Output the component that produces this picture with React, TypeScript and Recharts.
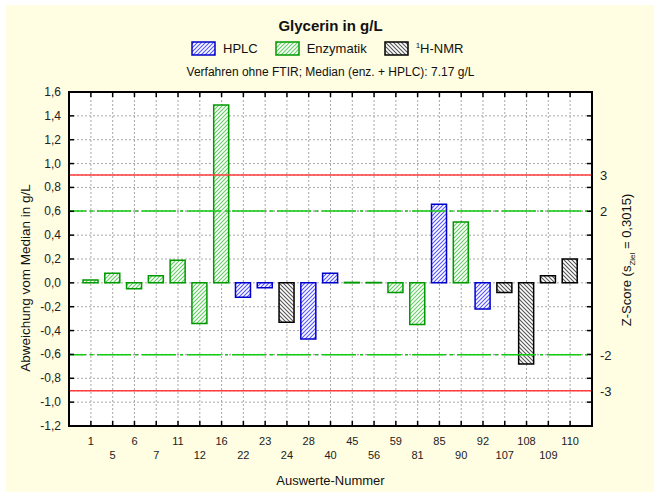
import React from "react";
import {
  BarChart,
  Bar,
  XAxis,
  YAxis,
  CartesianGrid,
  ReferenceLine,
} from "recharts";

// Auswerte-Nummer, Verfahren (E = Enzymatik, H = HPLC, N = 1H-NMR), Abweichung vom Median in g/L
const labNumbers = ["1", "5", "6", "7", "11", "12", "16", "22", "23", "24", "28", "40", "45", "56", "59", "81", "85", "90", "92", "107", "108", "109", "110"];
const methods = ["E", "E", "E", "E", "E", "E", "E", "H", "H", "N", "H", "H", "E", "E", "E", "E", "H", "E", "H", "N", "N", "N", "N"];
const deviations = [0.025, 0.08, -0.05, 0.06, 0.19, -0.34, 1.49, -0.12, -0.04, -0.33, -0.47, 0.08, 0.004, 0.003, -0.08, -0.35, 0.66, 0.51, -0.22, -0.08, -0.68, 0.06, 0.2];

const yTicks = [-1.2, -1.0, -0.8, -0.6, -0.4, -0.2, 0, 0.2, 0.4, 0.6, 0.8, 1.0, 1.2, 1.4, 1.6];
const sZiel = 0.3015;
const zScores = [3, 2, -2, -3];

const FONT = '"Liberation Sans", Arial, Helvetica, sans-serif';

// plot frame (pixels)
const PLOT_LEFT = 69;
const PLOT_TOP = 92;
const PLOT_W = 523;
const PLOT_H = 334;

const chartData = labNumbers.map((name, i) => ({
  name,
  HPLC: methods[i] === "H" ? deviations[i] : null,
  Enzymatik: methods[i] === "E" ? deviations[i] : null,
  NMR: methods[i] === "N" ? deviations[i] : null,
}));

const zValues = zScores.map((z) => z * sZiel);
const allYTicks = [...yTicks, ...zValues].sort((a, b) => a - b);

const fmt = (v: number) => v.toFixed(1).replace(".", ",");

// left axis tick + mirrored tick / z-score label on the right edge
function YTick({ x, y, payload }: any) {
  const xr = x + PLOT_W;
  const idx = zValues.findIndex((v) => Math.abs(v - payload.value) < 1e-9);
  if (idx >= 0) {
    return (
      <text x={xr + 8} y={y} dy={5} textAnchor="start" fontSize={13} fill="#222" fontFamily={FONT}>
        {zScores[idx]}
      </text>
    );
  }
  return (
    <g>
      <line x1={x} x2={x + 5} y1={y} y2={y} stroke="#000" strokeWidth={1.5} />
      <line x1={xr - 5} x2={xr} y1={y} y2={y} stroke="#000" strokeWidth={1.5} />
      <text x={x - 8} y={y} dy={4} textAnchor="end" fontSize={12} fill="#222" fontFamily={FONT}>
        {fmt(payload.value)}
      </text>
    </g>
  );
}

// bottom tick (two label rows) + mirrored tick on the top edge
function XTick({ x, y, payload, index }: any) {
  const row = index % 2;
  const yt = y - PLOT_H;
  return (
    <g>
      <line x1={x} x2={x} y1={y - 5} y2={y} stroke="#000" strokeWidth={1.5} />
      <line x1={x} x2={x} y1={yt} y2={yt + 5} stroke="#000" strokeWidth={1.5} />
      <text x={x} y={y} dy={row === 0 ? 19 : 33} textAnchor="middle" fontSize={11} fill="#222" fontFamily={FONT}>
        {payload.value}
      </text>
    </g>
  );
}

function Swatch({ pattern, stroke }: { pattern: string; stroke: string }) {
  return (
    <svg width={25} height={15} style={{ display: "block" }}>
      <rect x={1} y={1} width={23} height={13} fill={`url(#${pattern})`} stroke={stroke} strokeWidth={1.5} />
    </svg>
  );
}

export default function App() {
  return (
    <div style={{ position: "absolute", left: 0, top: 0, width: 654, height: 492, background: "#fff", fontFamily: FONT }}>
      <div style={{ position: "absolute", left: 6, top: 5, right: 0, bottom: 0, background: "#fffde2" }} />

      <div style={{ position: "absolute", left: 0, top: 0 }}>
        <BarChart
          width={654}
          height={492}
          data={chartData}
          stackOffset="sign"
          margin={{ top: PLOT_TOP, right: 654 - PLOT_LEFT - PLOT_W, bottom: 492 - PLOT_TOP - PLOT_H - 1, left: PLOT_LEFT - 1 }}
        >
          <defs>
            <pattern id="hatchBlue" width={4} height={4} patternUnits="userSpaceOnUse">
              <rect width={4} height={4} fill="#fff" />
              <path d="M-1,1 l2,-2 M0,4 l4,-4 M3,5 l2,-2" stroke="#5555ff" strokeWidth={1.1} />
            </pattern>
            <pattern id="hatchGreen" width={4} height={4} patternUnits="userSpaceOnUse">
              <rect width={4} height={4} fill="#fff" />
              <path d="M-1,1 l2,-2 M0,4 l4,-4 M3,5 l2,-2" stroke="#66cc66" strokeWidth={1.1} />
            </pattern>
            <pattern id="hatchGrey" width={4} height={4} patternUnits="userSpaceOnUse">
              <rect width={4} height={4} fill="#fff" />
              <path d="M-1,3 l2,2 M0,0 l4,4 M3,-1 l2,2" stroke="#555" strokeWidth={1.1} />
            </pattern>
          </defs>

          <CartesianGrid stroke="#a8a8a8" strokeDasharray="2 2" fill="#fff" />

          <XAxis
            dataKey="name"
            padding={{ left: 11, right: 11 }}
            height={1}
            tickSize={0}
            tickMargin={0}
            interval={0}
            tick={<XTick />}
            axisLine={false}
          />
          <YAxis
            domain={[-1.2, 1.6]}
            ticks={allYTicks}
            interval={0}
            width={1}
            tickSize={0}
            tickMargin={0}
            tick={<YTick />}
            axisLine={false}
          />

          {zValues.map((v, i) => (
            <ReferenceLine
              key={i}
              y={v}
              stroke={Math.abs(zScores[i]) === 3 ? "#ff3b3b" : "#11cc11"}
              strokeWidth={1.5}
              strokeDasharray={Math.abs(zScores[i]) === 3 ? undefined : "34 4 3 4"}
              strokeDashoffset={Math.abs(zScores[i]) === 3 ? undefined : 17}
            />
          ))}

          <Bar dataKey="HPLC" stackId="a" barSize={15} fill="url(#hatchBlue)" stroke="#0000cc" strokeWidth={1.5} isAnimationActive={false} />
          <Bar dataKey="Enzymatik" stackId="a" barSize={15} fill="url(#hatchGreen)" stroke="#009900" strokeWidth={1.5} isAnimationActive={false} />
          <Bar dataKey="NMR" stackId="a" barSize={15} fill="url(#hatchGrey)" stroke="#000" strokeWidth={1.5} isAnimationActive={false} />
        </BarChart>
      </div>

      {/* plot frame */}
      <svg width={654} height={492} style={{ position: "absolute", left: 0, top: 0, pointerEvents: "none" }}>
        <rect x={PLOT_LEFT} y={PLOT_TOP} width={PLOT_W} height={PLOT_H} fill="none" stroke="#000" strokeWidth={2} />
      </svg>

      {/* title, legend, subtitle */}
      <div style={{ position: "absolute", left: 0, width: 661, top: 17, textAlign: "center", fontSize: 15, fontWeight: "bold", color: "#111" }}>
        Glycerin in g/L
      </div>
      <div style={{ position: "absolute", left: 191, top: 41, display: "flex", alignItems: "center", fontSize: 13, color: "#111" }}>
        <Swatch pattern="hatchBlue" stroke="#0000cc" />
        <span style={{ marginLeft: 7, marginRight: 17 }}>HPLC</span>
        <Swatch pattern="hatchGreen" stroke="#009900" />
        <span style={{ marginLeft: 7, marginRight: 17 }}>Enzymatik</span>
        <Swatch pattern="hatchGrey" stroke="#000" />
        <span style={{ marginLeft: 7 }}>
          <sup style={{ fontSize: 8 }}>1</sup>H-NMR
        </span>
      </div>
      <div style={{ position: "absolute", left: 0, width: 661, top: 65, textAlign: "center", fontSize: 12, color: "#111" }}>
        Verfahren ohne FTIR; Median (enz. + HPLC): 7.17 g/L
      </div>

      {/* axis titles */}
      <div
        style={{
          position: "absolute",
          left: 25,
          top: 278,
          transform: "translate(-50%, -50%) rotate(-90deg)",
          whiteSpace: "nowrap",
          fontSize: 13.5,
          color: "#111",
        }}
      >
        Abweichung vom Median in g/L
      </div>
      <div
        style={{
          position: "absolute",
          left: 628,
          top: 260,
          transform: "translate(-50%, -50%) rotate(-90deg)",
          whiteSpace: "nowrap",
          fontSize: 13,
          color: "#111",
        }}
      >
        Z-Score (s<sub style={{ fontSize: 8 }}>Ziel</sub> = 0,3015)
      </div>
      <div style={{ position: "absolute", left: 0, width: 661, top: 473, textAlign: "center", fontSize: 13, color: "#111" }}>
        Auswerte-Nummer
      </div>
    </div>
  );
}
